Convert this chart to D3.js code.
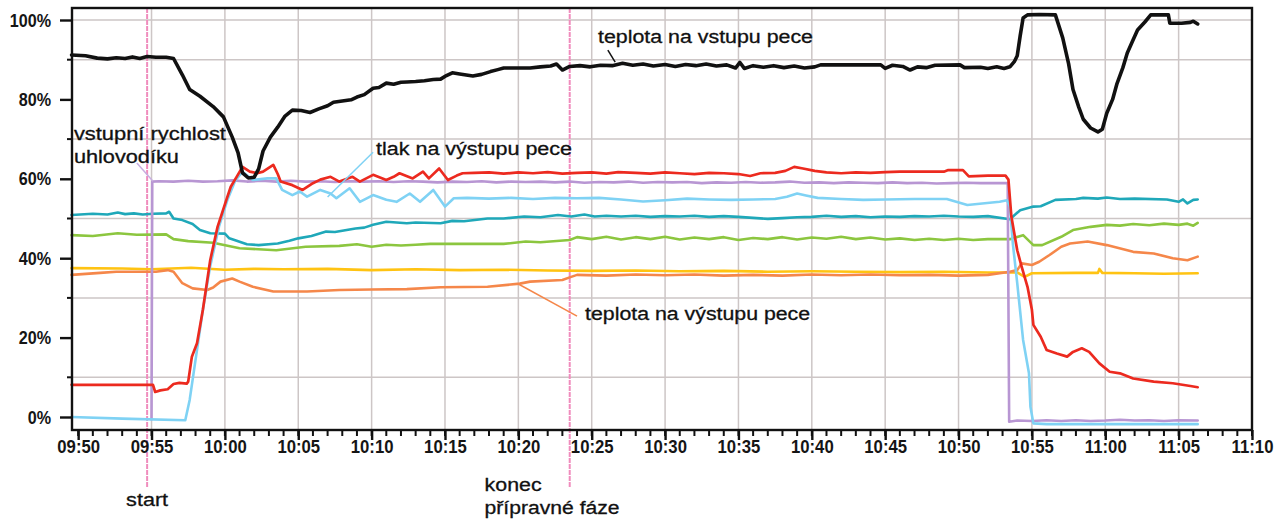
<!DOCTYPE html>
<html><head><meta charset="utf-8">
<script src="https://cdn.jsdelivr.net/npm/d3@7"></script>
<style>body{margin:0;background:#fff}svg{display:block}</style>
</head><body>
<svg id="c" width="1280" height="519"></svg>
<script>
// ---- data (time = minutes after 09:50, value = %) ----
const yTickValues = [0, 20, 40, 60, 80, 100];
const yMinorValues = [10, 30, 50, 70, 90];
const yGridValues = [10, 30, 50, 70, 90, 100];

const inletTemp = [[-0.45,91.2],[0.5,91],[1.3,90.4],[2,90.2],[2.6,90.5],[3.2,90.3],[3.7,90.7],[4.2,90.3],[4.7,90.8],[5.3,90.6],[6,90.6],[6.5,90.3],[7.1,86.2],[7.6,82.5],[8.3,80.8],[9.2,78.2],[9.9,75.6],[10.5,70.5],[10.9,66.5],[11.2,61.5],[11.6,60.2],[12.0,60.4],[12.3,62.5],[12.6,67],[13.1,70.5],[13.6,73],[14.1,75.8],[14.6,77.3],[15.2,77.2],[15.8,76.7],[16.4,77.6],[17,78.4],[17.4,79.3],[18,79.6],[18.6,79.9],[19,80.6],[19.5,81.2],[20.1,82.8],[20.5,83],[21,84.1],[21.5,83.8],[22,84.3],[22.4,84.4],[23,84.5],[23.6,84.7],[24.2,85],[24.7,85.1],[25.1,86],[25.5,86.7],[26,86.4],[26.9,85.9],[27.5,86.3],[28.1,87],[28.6,87.5],[29,87.9],[30,87.9],[30.8,87.9],[31.5,88.2],[32.2,88.4],[32.6,88.9],[33,87.4],[33.5,88.3],[34.2,88.5],[34.9,88.2],[35.6,88.6],[36.4,88.5],[37.1,89.1],[37.8,88.6],[38.5,88.9],[39.2,88.4],[40,88.8],[40.7,88.3],[41.4,88.8],[42.1,88.5],[42.8,88.9],[43.5,88.4],[44.2,88.7],[44.8,87.9],[45.1,89.3],[45.4,87.8],[46,88.5],[46.7,88.1],[47.4,88.5],[48.1,88],[48.8,88.4],[49.5,87.9],[50.2,88.2],[50.6,88.7],[54.7,88.7],[55,87.8],[55.5,88.6],[56.2,88.3],[56.7,87.4],[57.2,88.2],[57.8,88],[58.4,88.6],[60.1,88.7],[60.4,88],[61.5,88.1],[62,87.8],[62.6,88.2],[63.1,87.8],[63.5,88.2],[63.8,89.5],[64,91],[64.2,96],[64.4,100.5],[64.7,101.3],[65.5,101.4],[66.6,101.3],[67.1,95.5],[67.5,89],[67.8,82.5],[68.2,78],[68.5,75],[69,72.8],[69.5,71.8],[69.8,72.5],[70.1,76.5],[70.5,80],[70.8,84],[71.2,88],[71.5,91.7],[71.9,95],[72.2,97.5],[72.7,99.5],[73.1,101.3],[74.3,101.3],[74.4,99.2],[75.2,99.2],[75.8,99.4],[76,99.7],[76.3,99]];

const redSeries = [[-0.45,8.1],[5.1,8.1],[5.25,6.3],[5.6,6.7],[6.1,7.0],[6.5,8.3],[6.9,8.6],[7.4,8.4],[7.5,8.9],[7.75,15.2],[8.1,18.6],[8.5,27],[9.0,39.5],[9.5,47.9],[10.1,54.7],[10.4,58],[10.8,60.5],[11.2,63],[11.7,61.8],[12.2,61.4],[12.6,61.8],[13.3,63.5],[13.6,61.2],[13.8,59.3],[14.6,58.4],[15.3,57.2],[16,58.9],[16.5,59.8],[17.2,60.5],[17.8,59.3],[18.7,60.5],[19.2,59.3],[20.1,61],[21,59.7],[21.5,60.5],[21.9,61.4],[22.8,60.1],[23.5,61.8],[23.9,60.1],[24.6,62.6],[25.2,59.7],[25.8,60.8],[26.2,61.4],[27,61.5],[28,61.6],[29,61.3],[30,61.6],[31,61.4],[32,61.7],[33,61.3],[34,61.5],[35,61.6],[36,61.3],[36.8,61.7],[38,61.5],[39,61.3],[40,61.6],[41,61.4],[42,61.2],[43,61.5],[44,61.4],[45,61.2],[45.8,60.7],[46.5,61.4],[47.5,61.5],[48.2,62],[48.8,63],[49.4,62.6],[50.2,62],[51,61.6],[52,61.4],[53,61.6],[54,61.5],[55,61.7],[56,61.8],[59,61.8],[59.3,62.2],[60.3,62.2],[60.7,60.6],[62,60.8],[63.2,60.8],[63.4,59.8],[63.6,50.5],[64.0,42],[64.3,37.9],[64.7,32.8],[65,27],[65.1,23.2],[65.6,20.2],[66,16.9],[66.7,16],[67.4,15.2],[67.8,16.4],[68.4,17.3],[68.9,16.4],[69.6,13.5],[70.3,11.4],[71,11],[71.9,9.7],[73.3,8.9],[74.6,8.5],[75.8,7.8],[76.3,7.5]];

const feedRate = [[5.0,-0.6],[5.05,59.3],[5.5,59.4],[6.5,59.3],[7.5,59.5],[8.5,59.3],[9.5,59.4],[10.5,59.6],[11.5,59.3],[12.5,59.5],[13.5,59.3],[14.5,59.5],[15.5,59.3],[16.5,59.4],[17.5,59.2],[18.5,59.4],[19.5,59.3],[20.5,59.4],[21.5,59.2],[22.5,59.4],[23.5,59.3],[24.5,59.1],[25.5,59.3],[26.5,59.2],[27.5,59.4],[28.5,59.1],[29.5,59.3],[30.5,59.2],[31.5,59.3],[32.5,59.1],[33.5,59.3],[34.5,59.0],[35.5,59.2],[36.5,59.1],[37.5,59.3],[38.5,59.0],[39.5,59.2],[40.5,59.1],[41.5,59.2],[42.5,58.9],[43.5,59.1],[44.5,59.0],[45.5,59.2],[46.5,59.0],[47.5,59.1],[48.5,59.3],[49.5,59.0],[50.5,59.1],[51.5,58.9],[52.5,59.1],[53.5,59.0],[54.5,58.9],[55.5,59.1],[56.5,58.9],[57.5,59.0],[58.5,58.8],[59.5,58.9],[60.5,59.0],[61.5,58.9],[62.5,58.9],[63.35,58.9],[63.45,-1.2],[64,-0.9],[65,-1.0],[66,-0.8],[67,-1.0],[68,-0.8],[69,-1.0],[70,-0.9],[71,-0.7],[72,-0.9],[73,-0.8],[74,-1.0],[75,-0.8],[76.3,-0.9]];

const outletPressure = [[-0.45,0],[3,-0.4],[7.3,-0.8],[7.6,4.3],[8.1,16.9],[8.5,27],[9,38],[9.6,48],[10.2,55],[10.7,59.5],[11.2,61.8],[11.9,59.7],[12.9,60.1],[13.5,60.1],[13.9,57.2],[14.6,55.9],[15.1,56.8],[15.6,55.5],[16.5,57.2],[17.2,56.3],[17.6,55.1],[18.5,57.6],[19.2,54.2],[20.1,55.9],[21,54.7],[21.7,54.2],[22.6,56.3],[23.3,54.2],[24.2,57.2],[25,53],[25.6,55.1],[26.5,55.2],[28,55],[29.5,55.2],[31,54.9],[32.5,55.2],[34,55.1],[35.5,55.2],[37,54.8],[38.5,54.3],[40,54.6],[41.5,55],[43,54.8],[44.5,54.7],[46,54.8],[47.5,54.9],[48.3,55.5],[49,56.3],[49.6,55.8],[50.4,55.2],[52,54.9],[53.5,54.7],[55,54.8],[57,54.9],[59.2,54.9],[60.6,53.4],[62.8,54.2],[63.3,54.6],[63.5,53],[63.7,43.7],[64,33.7],[64.4,19.4],[64.8,11],[64.9,2.6],[65.1,-1.6],[66,-1.8],[76.3,-1.8]];

const tealSeries = [[-0.45,50.9],[1,51.2],[2,51],[2.7,51.5],[3.2,51.1],[3.8,51.3],[4.4,51.0],[5.1,51.2],[6,51.3],[6.2,51.7],[6.5,50],[7.1,49.6],[7.8,48.6],[8.3,47.1],[9,46.3],[10,46.2],[10.3,45],[11.5,43.5],[12.3,43.3],[13.6,43.7],[14.4,44.4],[15,45],[15.9,45.6],[16.9,46.7],[17.5,46.6],[18.9,47.5],[19.5,47.7],[20.1,48.4],[21,49.2],[22.4,48.8],[23,49],[24.7,48.8],[25.5,49.4],[26.3,49.3],[27.9,50],[29,50],[30.4,50.5],[31.5,50.3],[32.7,50.9],[33.6,50.5],[34.5,51],[35.2,50.5],[36,50.7],[37,50.5],[38,50.7],[39,50.4],[40,50.6],[41,50.5],[42,50.7],[43,50.4],[44,50.6],[45,50.4],[47,49.9],[48,50.1],[49,50.3],[50,50.4],[51,50.7],[52,50.4],[53,50.6],[54,50.3],[55,50.5],[56,50.4],[57,50.6],[58,50.5],[59,50.7],[60,50.5],[61,50.4],[62,50.6],[63.5,49.8],[64.2,52.1],[65.1,53],[65.6,53.1],[66.6,54.7],[68,54.9],[68.5,55.2],[69.5,55],[70.1,55.3],[71,54.9],[72,55],[74.2,54.8],[75,54.2],[75.3,54.8],[75.6,53.8],[76,54.7],[76.3,54.8]];

const greenSeries = [[-0.45,45.8],[1,45.6],[2.7,46.3],[4,45.9],[6,46],[6.5,44.8],[7.5,44.3],[9.2,43.9],[11,42.5],[13.5,42],[15.5,42.9],[17.8,43.1],[19,43.5],[20,42.9],[21,43.4],[22,43.2],[23,43.4],[24,43.6],[25.5,43.6],[29,43.6],[30.5,44.2],[31.5,44.0],[33.5,44.6],[34,45.3],[35,44.8],[36,45.4],[37,44.7],[38,45.3],[39,44.8],[40,45.4],[41,44.7],[42,45.2],[43,44.8],[44,45.3],[45,44.6],[46,45.1],[47,44.8],[48,45.3],[49,44.7],[50,45.2],[51,44.9],[52,45.4],[53,44.8],[54,45.2],[55,44.7],[56,45.0],[57,44.6],[58,44.9],[59,44.6],[60,44.9],[61,44.6],[62,44.8],[63.5,44.8],[64.4,45.8],[65.1,43.3],[65.7,43.3],[67,45.4],[67.8,47.1],[69,47.9],[70.1,48.4],[71,48.2],[71.9,48.6],[73,48.3],[74,48.7],[75,48.4],[75.6,48.7],[76,48.2],[76.3,48.9]];

const yellowSeries = [[-0.45,37.5],[3,37.4],[5,37.2],[7.7,37.6],[10,37.1],[12,37.3],[14,37.2],[17,37.3],[20,37.0],[23,37.2],[26,37.0],[29,37.1],[32,36.9],[35,36.8],[38,36.9],[41,36.7],[44,36.8],[47,36.6],[50,36.7],[53,36.6],[56,36.5],[59,36.6],[62,36.4],[64,36.4],[64.5,35.3],[65,36.2],[68,36.3],[69.5,36.3],[69.6,37.3],[69.8,36.3],[72,36.2],[74,36.1],[76.3,36.2]];

const outletTemp = [[-0.45,35.8],[1.5,36.3],[2.6,36.6],[4,36.6],[5.3,36.6],[6.1,37],[6.5,36.6],[7.1,33.7],[7.8,32.4],[8.8,32],[9.2,32.6],[9.7,34.1],[10.5,34.9],[11.0,34.1],[11.9,32.8],[13.3,31.6],[15.6,31.6],[17.8,32],[20,32.1],[22.4,32.2],[24.7,32.7],[27.9,32.8],[30.1,33.6],[30.8,34.1],[33,34.5],[33.6,35.3],[34,35.8],[36,35.6],[38,35.9],[40,35.7],[42,35.9],[44,35.6],[46,35.8],[48,35.6],[50,35.9],[52,35.7],[54,35.9],[56,35.7],[58,35.8],[60,35.6],[62,35.8],[63.5,36.6],[64,37],[64.3,38.7],[65,38.3],[65.5,39.1],[66.2,40.8],[67,42.9],[67.6,43.7],[68.8,44.2],[70.1,43.3],[71.9,41.6],[73.3,41.2],[74.6,40],[75.6,39.5],[76.3,40.4]];

const markerTimes = [4.7, 33.5];   // start, konec přípravné fáze

// ---- chart ----
const svg = d3.select('#c');
const base = new Date(2020, 0, 1, 9, 50);
const toDate = m => new Date(base.getTime() + m * 60000);
const x = d3.scaleTime().domain([toDate(-0.42), toDate(80)]).range([72, 1252]);
const y = d3.scaleLinear().domain([0, 100]).range([417, 20]);
const plotTop = 8, plotBottom = 430, plotLeft = 72, plotRight = 1252;
const gridColor = '#cdc6c6';
const sans = "'Liberation Sans',Arial,Helvetica,sans-serif";

// grid
svg.append('g').selectAll('line').data(yGridValues).join('line')
  .attr('x1', plotLeft).attr('x2', plotRight).attr('y1', d => y(d)).attr('y2', d => y(d))
  .attr('stroke', gridColor).attr('stroke-width', 1.5);
const vGrid = d3.timeMinute.every(5).range(toDate(5), toDate(76));
svg.append('g').selectAll('line').data(vGrid).join('line')
  .attr('x1', d => x(d)).attr('x2', d => x(d)).attr('y1', plotTop).attr('y2', plotBottom)
  .attr('stroke', gridColor).attr('stroke-width', 1.5);

// marker lines
svg.append('g').selectAll('line').data(markerTimes).join('line')
  .attr('x1', d => x(toDate(d))).attr('x2', d => x(toDate(d)))
  .attr('y1', plotTop).attr('y2', 488)
  .attr('stroke', '#f08cbd').attr('stroke-width', 2).attr('stroke-dasharray', '5,1');

// series
const line = d3.line().x(d => x(toDate(d[0]))).y(d => y(d[1]));
const series = [
  {d: yellowSeries, c: '#ffc312', w: 2.6},
  {d: outletTemp, c: '#f5874a', w: 2.6},
  {d: greenSeries, c: '#8cc63f', w: 2.6},
  {d: tealSeries, c: '#1fa8b9', w: 2.6},
  {d: feedRate, c: '#b896d3', w: 2.6},
  {d: outletPressure, c: '#7fd2f4', w: 2.6},
  {d: redSeries, c: '#ec2a1f', w: 2.7},
  {d: inletTemp, c: '#111111', w: 3.6}
];
svg.append('g').selectAll('path').data(series).join('path')
  .attr('d', s => line(s.d)).attr('fill', 'none')
  .attr('stroke', s => s.c).attr('stroke-width', s => s.w)
  .attr('stroke-linejoin', 'round').attr('stroke-linecap', 'round');

// frame
svg.append('rect').attr('x', plotLeft).attr('y', plotTop).attr('width', plotRight - plotLeft).attr('height', plotBottom - plotTop)
  .attr('fill', 'none').attr('stroke', '#111').attr('stroke-width', 2.4);

function condense(sel, k) {
  sel.each(function () {
    const w = this.getComputedTextLength();
    d3.select(this).attr('textLength', w * k).attr('lengthAdjust', 'spacingAndGlyphs');
  });
}

// y axis
const yAxis = d3.axisLeft(y).tickValues(yTickValues).tickFormat(d => d + '%').tickSize(12).tickPadding(9);
const gy = svg.append('g').attr('transform', `translate(${plotLeft},0)`).call(yAxis);
gy.select('.domain').remove();
gy.selectAll('.tick line').attr('stroke', '#111').attr('stroke-width', 2.4);
gy.selectAll('.tick text').attr('font-family', sans).attr('font-weight', 'bold')
  .attr('font-size', 19).attr('fill', '#151515').call(condense, 0.85);
svg.append('g').selectAll('line').data(yMinorValues).join('line')
  .attr('x1', plotLeft - 5).attr('x2', plotLeft).attr('y1', d => y(d)).attr('y2', d => y(d))
  .attr('stroke', '#111').attr('stroke-width', 2);

// x axis
const xAxis = d3.axisBottom(x).ticks(d3.timeMinute.every(5)).tickFormat(d3.timeFormat('%H:%M')).tickSize(10).tickPadding(0);
const gx = svg.append('g').attr('transform', `translate(0,${plotBottom})`).call(xAxis);
gx.select('.domain').remove();
gx.selectAll('.tick line').attr('stroke', '#111').attr('stroke-width', 2.4);
gx.selectAll('.tick text').attr('font-family', sans).attr('font-weight', 'bold')
  .attr('font-size', 19).attr('fill', '#151515').call(condense, 0.88);
const minorX = d3.timeMinute.every(1).range(toDate(0), toDate(80.01));
svg.append('g').selectAll('line').data(minorX).join('line')
  .attr('x1', d => x(d)).attr('x2', d => x(d)).attr('y1', plotBottom).attr('y2', plotBottom + 6)
  .attr('stroke', '#111').attr('stroke-width', 2);

// annotations (anchored with the data scales)
const leaders = [
  {a: [4.0, 64], b: [5.1, 59.4], c: '#c7aee0'},
  {a: [20.1, 66.7], b: [17.0, 55.4], c: '#7fd2f4'},
  {a: [36.1, 92.4], b: [36.6, 89.4], c: '#111'},
  {a: [30.0, 33.5], b: [34.0, 25.4], c: '#f5874a'}
];
svg.append('g').selectAll('line').data(leaders).join('line')
  .attr('x1', d => x(toDate(d.a[0]))).attr('y1', d => y(d.a[1]))
  .attr('x2', d => x(toDate(d.b[0]))).attr('y2', d => y(d.b[1]))
  .attr('stroke', d => d.c).attr('stroke-width', 1.5);

const labels = [
  {t: 'teplota na vstupu pece', m: 35.43, v: 94.2, len: 215},
  {t: 'vstupní rychlost', m: -0.29, v: 69.8, len: 152},
  {t: 'uhlovodíku', m: -0.29, v: 64.0, len: 105},
  {t: 'tlak na výstupu pece', m: 20.3, v: 66.0, len: 196},
  {t: 'teplota na výstupu pece', m: 34.55, v: 24.4, len: 225}
];
svg.append('g').selectAll('text').data(labels).join('text')
  .attr('x', d => x(toDate(d.m))).attr('y', d => y(d.v))
  .attr('textLength', d => d.len).attr('lengthAdjust', 'spacingAndGlyphs')
  .attr('font-family', sans).attr('font-size', 18).attr('fill', '#111')
  .attr('stroke', '#111').attr('stroke-width', 0.3)
  .text(d => d.t);

const bottomLabels = [
  {t: 'start', m: 4.7, yy: 506, len: 42, anchor: 'middle'},
  {t: 'konec', m: 27.7, yy: 491, len: 57, anchor: 'start'},
  {t: 'přípravné fáze', m: 27.7, yy: 514, len: 135, anchor: 'start'}
];
svg.append('g').selectAll('text').data(bottomLabels).join('text')
  .attr('x', d => x(toDate(d.m))).attr('y', d => d.yy)
  .attr('text-anchor', d => d.anchor)
  .attr('textLength', d => d.len).attr('lengthAdjust', 'spacingAndGlyphs')
  .attr('font-family', sans).attr('font-size', 18).attr('fill', '#111')
  .attr('stroke', '#111').attr('stroke-width', 0.3)
  .text(d => d.t);
</script>
</body></html>
